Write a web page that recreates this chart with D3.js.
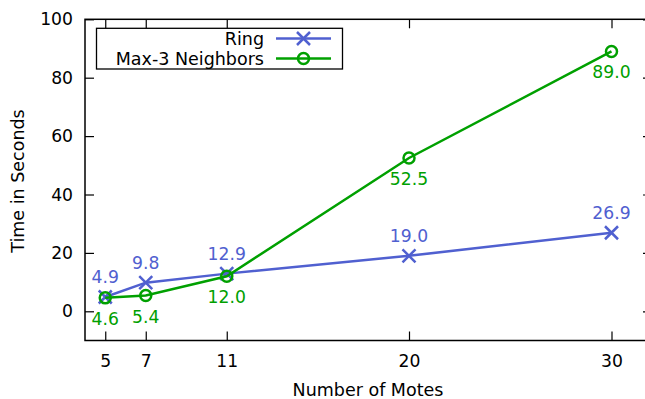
<!DOCTYPE html>
<html>
<head>
<meta charset="utf-8">
<script src="https://cdn.jsdelivr.net/npm/d3@7"></script>
<style>
  html, body { margin: 0; padding: 0; background: #fff; }
  svg { display: block; font-family: "DejaVu Sans", sans-serif; }
</style>
</head>
<body>
<svg id="chart" width="645" height="399"></svg>
<script>
// Completion time versus network size for two topologies
const motes = [5, 7, 11, 20, 30];
const ringTimes = [4.9, 9.8, 12.9, 19.0, 26.9];
const max3Times = [4.6, 5.4, 12.0, 52.5, 89.0];
const seriesNames = ["Ring", "Max-3 Neighbors"];
const yTicks = [0, 20, 40, 60, 80, 100];

const svg = d3.select("#chart");
const plotL = 85, plotR = 652, plotT = 19.3, plotB = 340.5;
const fs = 17.2;

const x = d3.scaleLinear().domain([4, 32]).range([plotL, plotR]);
const y = d3.scaleLinear().domain([-10, 100]).range([plotB, plotT]);

const blue = "#5060d0", green = "#00a000";
const tickLen = 9;

// frame
svg.append("rect").attr("x", plotL).attr("y", plotT)
  .attr("width", plotR - plotL).attr("height", plotB - plotT)
  .attr("fill", "none").attr("stroke", "#000").attr("stroke-width", 1.5);

// axes with ticks drawn inward, mirrored on opposite sides
const xAxis = d3.axisBottom(x).tickValues(motes).tickSize(-tickLen).tickPadding(14).tickFormat(d3.format("d"));
const gx = svg.append("g").attr("transform", `translate(0,${plotB})`).call(xAxis);
const xTop = d3.axisTop(x).tickValues(motes).tickSize(-tickLen).tickFormat("");
const gxt = svg.append("g").attr("transform", `translate(0,${plotT})`).call(xTop);

const yAxis = d3.axisLeft(y).tickValues(yTicks).tickSize(-tickLen).tickPadding(12).tickFormat(d3.format("d"));
const gy = svg.append("g").attr("transform", `translate(${plotL},0)`).call(yAxis);
const yRight = d3.axisRight(y).tickValues(yTicks).tickSize(-tickLen).tickFormat("");
const gyr = svg.append("g").attr("transform", `translate(${plotR},0)`).call(yRight);

[gx, gxt, gy, gyr].forEach(g => {
  g.select(".domain").remove();
  g.selectAll("line").attr("stroke", "#000").attr("stroke-width", 1.2);
  g.selectAll("text").attr("font-size", fs).attr("fill", "#000")
    .attr("font-family", "DejaVu Sans, sans-serif");
});

// axis titles
svg.append("text").attr("x", 368).attr("y", 396).attr("text-anchor", "middle")
  .attr("font-size", fs + 0.3).text("Number of Motes");
svg.append("text").attr("transform", `translate(24,181) rotate(-90)`)
  .attr("text-anchor", "middle").attr("font-size", fs + 0.3).text("Time in Seconds");

const line = d3.line().x(d => x(d[0])).y(d => y(d[1]));

function crossPath(cx, cy, s) {
  return `M${cx - s},${cy - s}L${cx + s},${cy + s}M${cx - s},${cy + s}L${cx + s},${cy - s}`;
}

const ringData = motes.map((m, i) => [m, ringTimes[i]]);
const max3Data = motes.map((m, i) => [m, max3Times[i]]);

// Ring series
svg.append("path").datum(ringData).attr("d", line)
  .attr("fill", "none").attr("stroke", blue).attr("stroke-width", 2.5);
svg.append("g").selectAll("path").data(ringData).join("path")
  .attr("d", d => crossPath(x(d[0]), y(d[1]), 6.5))
  .attr("stroke", blue).attr("stroke-width", 2.5).attr("fill", "none");

// Max-3 Neighbors series
svg.append("path").datum(max3Data).attr("d", line)
  .attr("fill", "none").attr("stroke", green).attr("stroke-width", 2.5);
svg.append("g").selectAll("circle").data(max3Data).join("circle")
  .attr("cx", d => x(d[0])).attr("cy", d => y(d[1])).attr("r", 5.5)
  .attr("fill", "none").attr("stroke", green).attr("stroke-width", 2.5);

// value labels
svg.append("g").selectAll("text").data(ringData).join("text")
  .attr("x", d => x(d[0])).attr("y", d => y(d[1]) - 14)
  .attr("text-anchor", "middle").attr("font-size", fs).attr("fill", blue)
  .text(d => d[1].toFixed(1));
svg.append("g").selectAll("text").data(max3Data).join("text")
  .attr("x", d => x(d[0])).attr("y", d => y(d[1]) + 27)
  .attr("text-anchor", "middle").attr("font-size", fs).attr("fill", green)
  .text(d => d[1].toFixed(1));

// legend
const lg = svg.append("g");
lg.append("rect").attr("x", 96.5).attr("y", 28.3).attr("width", 246).attr("height", 40.7)
  .attr("fill", "#fff").attr("stroke", "#000").attr("stroke-width", 1.3);
const legendRows = [
  { name: seriesNames[0], color: blue, cy: 38.5, mark: "x" },
  { name: seriesNames[1], color: green, cy: 58.5, mark: "o" }
];
legendRows.forEach(r => {
  lg.append("text").attr("x", 264).attr("y", r.cy + 6).attr("text-anchor", "end")
    .attr("font-size", fs + 0.3).text(r.name);
  lg.append("line").attr("x1", 276).attr("x2", 331).attr("y1", r.cy).attr("y2", r.cy)
    .attr("stroke", r.color).attr("stroke-width", 2.5);
  if (r.mark === "x") {
    lg.append("path").attr("d", crossPath(303.5, r.cy, 6.5))
      .attr("stroke", r.color).attr("stroke-width", 2.5);
  } else {
    lg.append("circle").attr("cx", 303.5).attr("cy", r.cy).attr("r", 5.5)
      .attr("fill", "none").attr("stroke", r.color).attr("stroke-width", 2.5);
  }
});
</script>
</body>
</html>
